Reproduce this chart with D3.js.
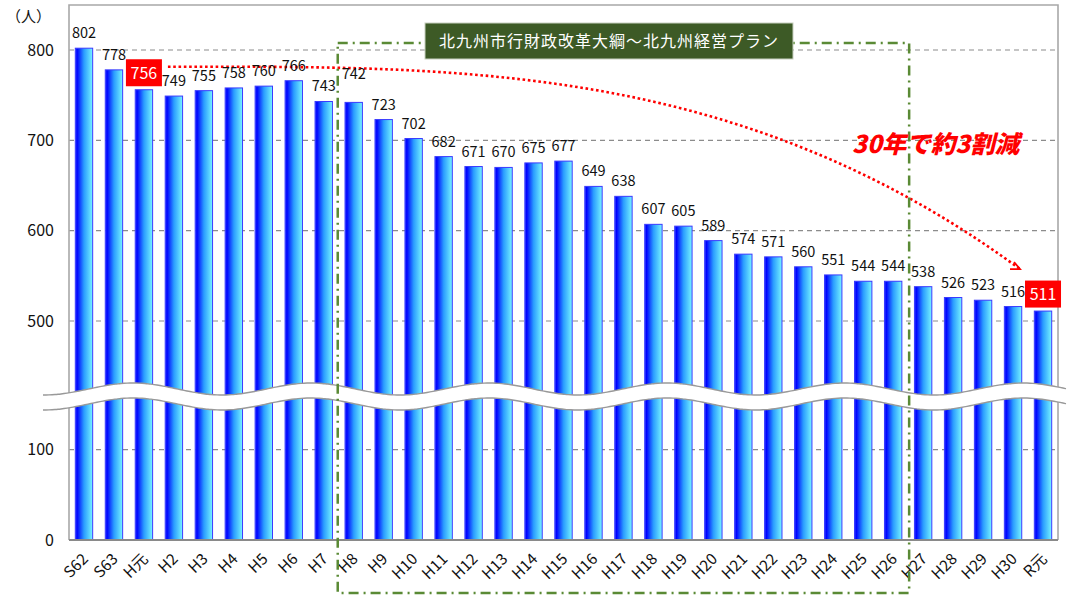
<!DOCTYPE html>
<html>
<head>
<meta charset="utf-8">
<script src="https://cdn.jsdelivr.net/npm/d3@7"></script>
<style>
  html, body { margin: 0; padding: 0; background: #fff; }
  svg { display: block; font-family: "Noto Sans CJK JP", "Noto Sans", sans-serif; }
</style>
</head>
<body>
<svg id="chart" width="1068" height="599"></svg>
<script>
/* ── Data ─────────────────────────────────────────────────────────── */
const years = ["S62", "S63", "H元", "H2", "H3", "H4", "H5", "H6", "H7", "H8", "H9",
  "H10", "H11", "H12", "H13", "H14", "H15", "H16", "H17", "H18", "H19", "H20",
  "H21", "H22", "H23", "H24", "H25", "H26", "H27", "H28", "H29", "H30", "R元"];
const staff = [802, 778, 756, 749, 755, 758, 760, 766, 743, 742, 723,
  702, 682, 671, 670, 675, 677, 649, 638, 607, 605, 589,
  574, 571, 560, 551, 544, 544, 538, 526, 523, 516, 511];
const yTicks = [0, 100, 500, 600, 700, 800];
const gridTicks = [100, 500, 600, 700, 800];
const highlighted = ["H元", "R元"];
const planFrom = "H8", planTo = "H26";
const planTitle = "北九州市行財政改革大綱～北九州経営プラン";
const trendNote = "30年で約3割減";
const unitLabel = "（人）";

const data = years.map((y, i) => ({ year: y, value: staff[i] }));

/* ── Layout ───────────────────────────────────────────────────────── */
const L = 69, R = 1058, T = 5, B = 540;
const svg = d3.select("#chart");

const x = d3.scaleBand().domain(years).range([L, R])
  .paddingInner(0.42).paddingOuter(0.21);

/* broken axis: 0–100 below the break, 500–800 above it */
const y = d3.scaleLinear()
  .domain([0, 100, 500, 800])
  .range([B, 449.7, 321, 50]);

/* gradient for the bars: dark blue on the left to cyan on the right */
const defs = svg.append("defs");
const grad = defs.append("linearGradient").attr("id", "barGrad")
  .attr("x1", "0").attr("x2", "1").attr("y1", "0").attr("y2", "0");
grad.append("stop").attr("offset", "0%").attr("stop-color", "#3050ff");
grad.append("stop").attr("offset", "10%").attr("stop-color", "#0000ff");
grad.append("stop").attr("offset", "50%").attr("stop-color", "#2a9cff");
grad.append("stop").attr("offset", "100%").attr("stop-color", "#78f4ff");

/* ── Grid + frame ─────────────────────────────────────────────────── */
svg.append("g").selectAll("line").data(gridTicks).join("line")
  .attr("x1", L).attr("x2", R)
  .attr("y1", d => y(d)).attr("y2", d => y(d))
  .attr("stroke", "#8c8c8c").attr("stroke-width", 1.2)
  .attr("stroke-dasharray", "5,4");

svg.append("path")
  .attr("d", `M${L},${B}V${T}H${R}V${B}`)
  .attr("fill", "none").attr("stroke", "#a8a8a8").attr("stroke-width", 1.6);

/* ── Trend curve (behind bars) ────────────────────────────────────── */
const x0 = x("H元") + x.bandwidth() / 2, x1 = x("R元") + x.bandwidth() / 2;
const p0 = [x0 + 24, y(756) - 23], p3 = [x1 - 23, y(511) - 42];
const curve = d3.path();
curve.moveTo(p0[0], p0[1]);
curve.bezierCurveTo(p0[0] + (p3[0] - p0[0]) / 3, p0[1],
  p0[0] + 2 * (p3[0] - p0[0]) / 3, p0[1] - 6, p3[0], p3[1]);
svg.append("path").attr("d", curve.toString())
  .attr("fill", "none").attr("stroke", "#ff0000").attr("stroke-width", 2.6)
  .attr("stroke-dasharray", "2.6,2.7");
svg.append("path")
  .attr("d", `M${p3[0] - 10},${p3[1]}H${p3[0]}L${p3[0] - 6},${p3[1] - 7}`)
  .attr("fill", "none").attr("stroke", "#ff0000").attr("stroke-width", 1.8);

/* ── Bars ─────────────────────────────────────────────────────────── */
svg.append("g").selectAll("rect").data(data).join("rect")
  .attr("x", d => x(d.year))
  .attr("y", d => y(d.value))
  .attr("width", x.bandwidth())
  .attr("height", d => y(0) - y(d.value))
  .attr("fill", "url(#barGrad)")
  .attr("stroke", "#3a3aff").attr("stroke-width", 1);

/* ── Axis break (wavy white band) ─────────────────────────────────── */
const waveX = d3.range(43, 1069, 3);
const waveTop = xx => 389 - 6 * Math.cos(2 * Math.PI * (xx - 133) / 178);
const band = waveX.map(xx => [xx, waveTop(xx)])
  .concat(waveX.slice().reverse().map(xx => [xx, waveTop(xx) + 15]));
svg.append("path").attr("d", d3.line()(band) + "Z")
  .attr("fill", "#fff").attr("stroke", "none");
[0, 15].forEach(off => {
  svg.append("path")
    .attr("d", d3.line().curve(d3.curveBasis)(waveX.map(xx => [xx, waveTop(xx) + off])))
    .attr("fill", "none").attr("stroke", "#999").attr("stroke-width", 1.4);
});

svg.append("line").attr("x1", L).attr("x2", R).attr("y1", B).attr("y2", B)
  .attr("stroke", "#8a8a8a").attr("stroke-width", 2);

/* ── Value labels ─────────────────────────────────────────────────── */
const labelLift = { "H8": 13 };
svg.append("g").selectAll("text")
  .data(data.filter(d => !highlighted.includes(d.year))).join("text")
  .attr("x", d => x(d.year) + x.bandwidth() / 2)
  .attr("y", d => y(d.value) - 10 - (labelLift[d.year] || 0))
  .attr("text-anchor", "middle")
  .attr("font-size", 14.5).attr("fill", "#111")
  .text(d => d.value);

const hl = svg.append("g").selectAll("g")
  .data(data.filter(d => highlighted.includes(d.year))).join("g")
  .attr("transform", d => `translate(${x(d.year) + x.bandwidth() / 2},${y(d.value) - 17})`);
hl.append("rect").attr("x", -18).attr("y", -13.5).attr("width", 36).attr("height", 27)
  .attr("fill", "#ff0000");
hl.append("text").attr("text-anchor", "middle").attr("dy", "0.36em")
  .attr("font-size", 16).attr("fill", "#fff").text(d => d.value);

/* ── Y axis labels ────────────────────────────────────────────────── */
svg.append("g").selectAll("text").data(yTicks).join("text")
  .attr("x", 54).attr("y", d => y(d)).attr("dy", "0.36em")
  .attr("text-anchor", "end").attr("font-size", 16).attr("fill", "#111")
  .text(d => d);
svg.append("text").attr("x", 6).attr("y", 22).attr("font-size", 15)
  .attr("fill", "#111").text(unitLabel);

/* ── X axis labels ────────────────────────────────────────────────── */
svg.append("g").selectAll("text").data(years).join("text")
  .attr("transform", d => `translate(${x(d) + x.bandwidth() / 2 + 5},${B + 20}) rotate(-45)`)
  .attr("text-anchor", "end").attr("font-size", 15.5).attr("fill", "#111")
  .text(d => d);

/* ── Plan period (dash-dot frame + title) ─────────────────────────── */
const step = x.step();
const planL = x(planFrom) + x.bandwidth() / 2 - step / 2 - 1;
const planR = x(planTo) + x.bandwidth() / 2 + step / 2 + 1;
svg.append("rect")
  .attr("x", planL).attr("y", 43).attr("width", planR - planL).attr("height", 550)
  .attr("fill", "none").attr("stroke", "#5a8a35").attr("stroke-width", 2.5)
  .attr("stroke-dasharray", "10,5,2,5");

svg.append("rect").attr("x", 425).attr("y", 23).attr("width", 368).attr("height", 36)
  .attr("fill", "#3d5a26").attr("stroke", "#c8d0c0").attr("stroke-width", 1);
svg.append("text").attr("x", 609).attr("y", 41).attr("dy", "0.36em")
  .attr("text-anchor", "middle").attr("font-size", 16).attr("letter-spacing", 1)
  .attr("fill", "#fff").text(planTitle);

/* ── Trend note ───────────────────────────────────────────────────── */
svg.append("text").attr("x", 852).attr("y", 153)
  .attr("font-size", 24.5).attr("font-weight", 900).attr("font-style", "italic")
  .attr("fill", "#ff0000").text(trendNote);
</script>
</body>
</html>
